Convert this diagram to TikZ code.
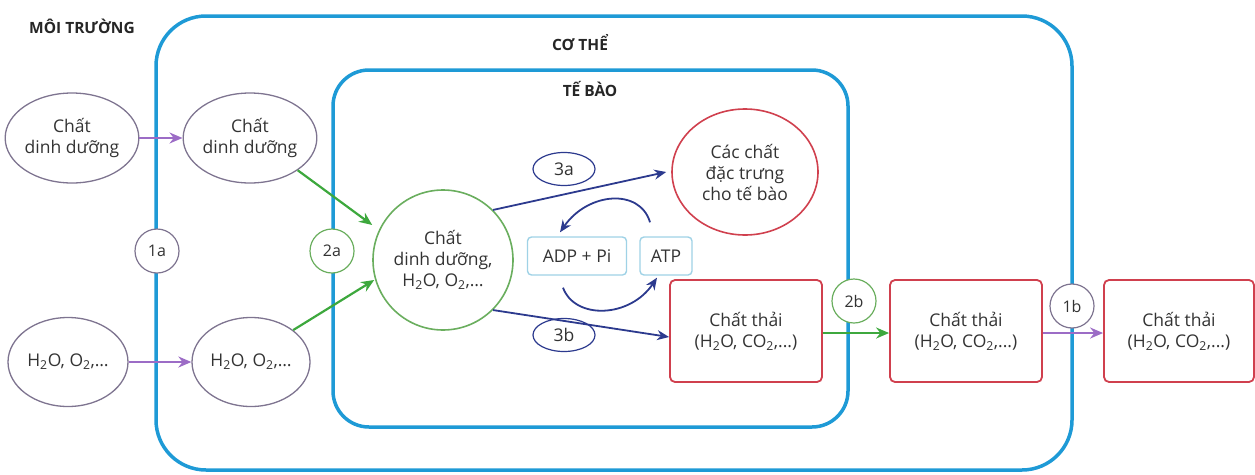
\documentclass[tikz,border=0pt]{standalone}
\usepackage{fontspec}
\setmainfont{Open Sans}
\usetikzlibrary{arrows.meta,shapes.geometric,calc}
\definecolor{cblue}{HTML}{1E9AD6}
\definecolor{cpurple}{HTML}{9C6CC6}
\definecolor{cgray}{HTML}{7E7490}
\definecolor{cgreen}{HTML}{3DA83D}
\definecolor{cgreenl}{HTML}{6AAE5E}
\definecolor{cred}{HTML}{D0404E}
\definecolor{cnavy}{HTML}{2C3A8E}
\definecolor{clblue}{HTML}{9FD2E6}
\begin{document}
\begin{tikzpicture}[x=1pt,y=-1pt,
  every node/.style={font=\fontsize{17.5}{21}\selectfont, text=black!80, align=center, inner sep=0pt},
  envell/.style={ellipse, draw=cgray, line width=1.3pt, fill=white},
  greenell/.style={ellipse, draw=cgreenl, line width=1.6pt, fill=white},
  redell/.style={ellipse, draw=cred, line width=1.6pt, fill=white},
  navyell/.style={ellipse, draw=cnavy, line width=1.2pt, fill=white, minimum width=62, minimum height=33},
  redbox/.style={rectangle, rounded corners=5, draw=cred, line width=1.8pt, fill=white, minimum width=152, minimum height=102},
  atpbox/.style={rectangle, rounded corners=4, draw=clblue, line width=1.4pt, fill=white, minimum height=38},
  badge/.style={circle, draw=#1, line width=1.2pt, fill=white, minimum size=44, font=\fontsize{16}{18}\selectfont},
  title/.style={font=\bfseries\fontsize{15.5}{18}\selectfont, text=black!85},
  cell/.style={draw=cblue, line width=3.5pt},
  parr/.style={draw=cpurple, line width=2.2pt, -{Stealth[length=13pt,width=11pt]}},
  garr/.style={draw=cgreen, line width=2.2pt, -{Stealth[length=13pt,width=11pt]}},
  narr/.style={draw=cnavy, line width=1.8pt, -{Stealth[length=12pt,width=10pt]}}
]
\useasboundingbox (0,0) rectangle (1255,474);
% containers
\draw[cell, rounded corners=50] (156,16) rectangle (1072,470);
\draw[cell, rounded corners=36] (333,70) rectangle (848,427);
\node[title] (moi) at (82,26) {MÔI TRƯỜNG};
\node[title] (co) at (580,43) {CƠ THỂ};
\node[title] (te) at (590,89) {TẾ BÀO};
% nodes
\node[envell, minimum width=124, minimum height=90] (e1) at (72,138) {Chất\\dinh dưỡng};
\node[envell, minimum width=118, minimum height=90] (e2) at (250,138) {Chất\\dinh dưỡng};
\node[envell, minimum width=120, minimum height=89] (e3) at (68,362) {H\textsubscript{2}O, O\textsubscript{2},…};
\node[envell, minimum width=118, minimum height=89] (e4) at (251,362) {H\textsubscript{2}O, O\textsubscript{2},…};
\node[greenell, minimum width=140, minimum height=140] (g) at (443,260) {Chất\\dinh dưỡng,\\H\textsubscript{2}O, O\textsubscript{2},…};
\node[redell, minimum width=146, minimum height=126] (r) at (745,172) {Các chất\\đặc trưng\\cho tế bào};
\node[navyell] (n3a) at (564,169) {3a};
\node[navyell] (n3b) at (564,335) {3b};
\node[atpbox, minimum width=99] (adp) at (577,256) {ADP + Pi};
\node[atpbox, minimum width=52] (atp) at (666,256) {ATP};
\node[redbox] (b1) at (746,331) {Chất thải\\(H\textsubscript{2}O, CO\textsubscript{2},...)};
\node[redbox] (b2) at (966,331) {Chất thải\\(H\textsubscript{2}O, CO\textsubscript{2},...)};
\node[redbox, minimum width=150] (b3) at (1179,331) {Chất thải\\(H\textsubscript{2}O, CO\textsubscript{2},...)};
% arrows
\draw[parr] (e1.east) -- (e2.west);
\draw[parr] (e3.east) -- (e4.west);
\draw[garr] (e2.south east) -- (g.west |- 0,225) ;
\draw[garr] (e4.north east) -- ($(g.west)+(2,20)$);
\draw[narr] (g.north east) -- ($(r.west)+(-5,0)$);
\draw[narr] (g.south east) -- ($(b1.west)+(0,6)$);
\coordinate (t1) at ($(atp.north)+(-16,-14)$);
\coordinate (t2) at ($(adp.north)+(-17,-4)$);
\draw[narr] (t1) .. controls (640,188) and (588,192) .. (t2);
\coordinate (u1) at ($(adp.south)+(-14,12)$);
\coordinate (u2) at ($(atp.south)+(-9,2)$);
\draw[narr] (u1) .. controls (575,320) and (630,318) .. (u2);
\draw[garr] ($(b1.east)+(0,2)$) -- ($(b2.west)+(0,2)$);
\draw[parr] ($(b2.east)+(0,2)$) -- ($(b3.west)+(0,2)$);
% badges
\node[badge=cgray] (b1a) at (157,251) {1a};
\node[badge=cgreenl] (b2a) at (332,251) {2a};
\node[badge=cgreenl] (b2b) at (854,301) {2b};
\node[badge=cgray] (b1b) at (1072,306) {1b};
\end{tikzpicture}
\end{document}
